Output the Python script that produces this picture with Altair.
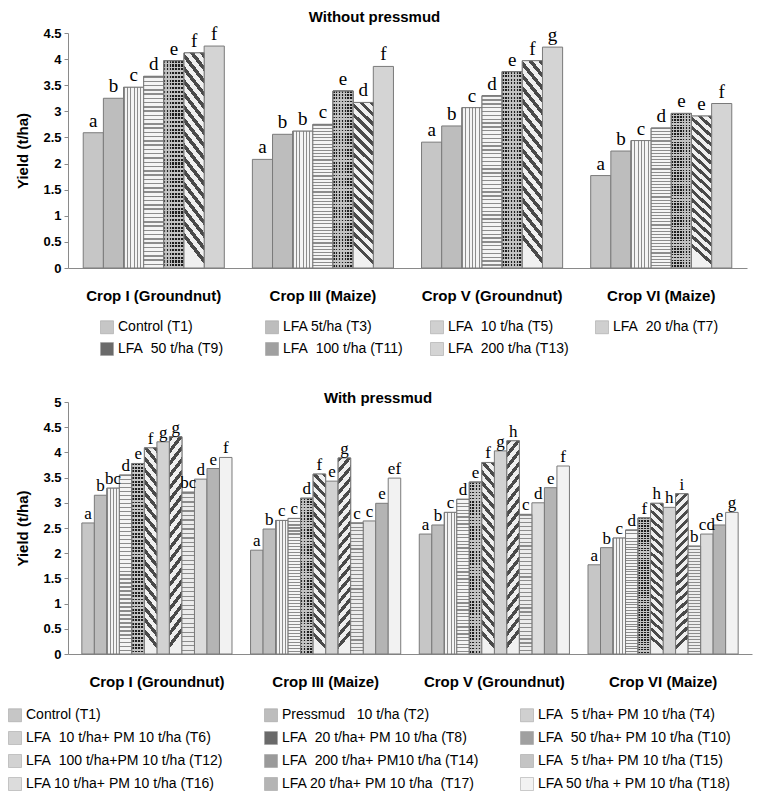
import altair as alt
import pandas as pd

crops = ["Crop I (Groundnut)", "Crop III (Maize)", "Crop V (Groundnut)", "Crop VI (Maize)"]

# ---------------- Without pressmud ----------------
top_trt = ["T1", "T3", "T5", "T7", "T9", "T11", "T13"]
top_labels = ["Control (T1)", "LFA 5t/ha (T3)", "LFA\u00a0 10 t/ha (T5)", "LFA\u00a0 20 t/ha (T7)",
              "LFA\u00a0 50 t/ha (T9)", "LFA\u00a0 100 t/ha (T11)", "LFA\u00a0 200 t/ha (T13)"]
top_c1 = [2.59, 3.25, 3.46, 3.67, 3.97, 4.12, 4.25]
top_c3 = [2.08, 2.56, 2.62, 2.75, 3.39, 3.17, 3.86]
top_c5 = [2.41, 2.72, 3.07, 3.30, 3.76, 3.97, 4.23]
top_c6 = [1.77, 2.24, 2.44, 2.68, 2.96, 2.91, 3.15]
top_l1 = ["a", "b", "c", "d", "e", "f", "f"]
top_l3 = ["a", "b", "b", "c", "e", "d", "f"]
top_l5 = ["a", "b", "c", "d", "e", "f", "g"]
top_l6 = ["a", "b", "c", "d", "e", "e", "f"]

# ---------------- With pressmud ----------------
bot_trt = ["T1", "T2", "T4", "T6", "T8", "T10", "T12", "T14", "T15", "T16", "T17", "T18"]
bot_labels = ["Control (T1)", "Pressmud\u00a0 \u00a010 t/ha (T2)", "LFA\u00a0 5 t/ha+ PM 10 t/ha (T4)",
              "LFA\u00a0 10 t/ha+ PM 10 t/ha (T6)", "LFA\u00a0 20 t/ha+ PM 10 t/ha (T8)",
              "LFA\u00a0 50 t/ha+ PM 10 t/ha (T10)", "LFA\u00a0 100 t/ha+PM 10 t/ha (T12)",
              "LFA\u00a0 200 t/ha+ PM10 t/ha (T14)", "LFA\u00a0 5 t/ha+ PM 10 t/ha (T15)",
              "LFA 10 t/ha+ PM 10 t/ha (T16)", "LFA 20 t/ha+ PM 10 t/ha\u00a0 (T17)",
              "LFA 50 t/ha + PM 10 t/ha (T18)"]
bot_c1 = [2.60, 3.15, 3.29, 3.55, 3.78, 4.09, 4.21, 4.31, 3.21, 3.47, 3.68, 3.90]
bot_c3 = [2.06, 2.48, 2.65, 2.69, 3.09, 3.57, 3.43, 3.89, 2.60, 2.64, 2.99, 3.49]
bot_c5 = [2.38, 2.56, 2.81, 3.07, 3.41, 3.80, 4.03, 4.23, 2.77, 3.00, 3.30, 3.73]
bot_c6 = [1.77, 2.11, 2.30, 2.46, 2.70, 2.99, 2.91, 3.18, 2.14, 2.38, 2.56, 2.81]
bot_l1 = ["a", "b", "bc", "d", "e", "f", "g", "g", "bc", "d", "e", "f"]
bot_l3 = ["a", "b", "c", "c", "d", "f", "e", "g", "c", "c", "e", "ef"]
bot_l5 = ["a", "b", "c", "d", "e", "f", "g", "h", "c", "d", "e", "f"]
bot_l6 = ["a", "b", "c", "d", "f", "h", "h", "i", "b", "cd", "e", "g"]

top_ticks = [0, 0.5, 1, 1.5, 2, 2.5, 3, 3.5, 4, 4.5]
bot_ticks = [0, 0.5, 1, 1.5, 2, 2.5, 3, 3.5, 4, 4.5, 5]

SANS = "Liberation Sans, Arial, sans-serif"
SERIF = "Liberation Serif, Times New Roman, serif"


def long_df(trts, labels, vals, lets):
    rows = []
    for crop, v, l in zip(crops, vals, lets):
        for t, lab, val, let in zip(trts, labels, v, l):
            rows.append({"crop": crop, "trt": t, "label": lab, "val": val, "letter": let})
    return pd.DataFrame(rows)


top_df = long_df(top_trt, top_labels, [top_c1, top_c3, top_c5, top_c6], [top_l1, top_l3, top_l5, top_l6])
bot_df = long_df(bot_trt, bot_labels, [bot_c1, bot_c3, bot_c5, bot_c6], [bot_l1, bot_l3, bot_l5, bot_l6])


def stripes(dark, light, n, x1, y1, x2, y2, duty):
    stops = []
    for i in range(n):
        a, b, c = i / n, (i + duty) / n, (i + 1) / n
        stops += [{"offset": round(a, 5), "color": dark}, {"offset": round(b, 5), "color": dark},
                  {"offset": round(b, 5), "color": light}, {"offset": round(c, 5), "color": light}]
    return {"gradient": "linear", "x1": x1, "y1": y1, "x2": x2, "y2": y2, "stops": stops}


CLEAR = "rgba(255,255,255,0)"

top_colors = ["#c6c6c6", "#bdbdbd", "#d0d0d0", "#cfcfcf", "#6a6a6a", "#a0a0a0", "#d4d4d4"]
top_over = [
    ("T5", [stripes("#8c8c8c", "#f4f4f4", 6, 0, 0, 1, 0, 0.3)]),
    ("T7", [stripes("#8c8c8c", "#f4f4f4", 45, 0, 0, 0, 1, 0.35)]),
    ("T9", [stripes("#1e1e1e", "#b4b4b4", 7, 0, 0, 1, 0, 0.55),
            stripes(CLEAR, "#c4c4c4", 55, 0, 0, 0, 1, 0.55)]),
    ("T11", [stripes("#4a4a4a", "#f0f0f0", 17, 1, 0, 0.88, 1, 0.45)]),
]

bot_colors = ["#c6c6c6", "#bdbdbd", "#d0d0d0", "#cfcfcf", "#6a6a6a", "#a0a0a0",
              "#d2d2d2", "#9a9a9a", "#c4c4c4", "#dcdcdc", "#b4b4b4", "#f2f2f2"]
bot_over = [
    ("T4", [stripes("#8c8c8c", "#f4f4f4", 4, 0, 0, 1, 0, 0.3)]),
    ("T6", [stripes("#8c8c8c", "#f4f4f4", 45, 0, 0, 0, 1, 0.35)]),
    ("T8", [stripes("#1e1e1e", "#b4b4b4", 4, 0, 0, 1, 0, 0.55),
            stripes(CLEAR, "#c4c4c4", 55, 0, 0, 0, 1, 0.55)]),
    ("T10", [stripes("#4a4a4a", "#f0f0f0", 18, 1, 0, 0.925, 1, 0.45)]),
    ("T14", [stripes("#4a4a4a", "#f0f0f0", 18, 0, 0, 0.075, 1, 0.45)]),
    ("T15", [stripes("#8c8c8c", "#ececec", 36, 0, 0, 0, 1, 0.3)]),
]


def panel(df, trts, labels, colors, overlays, ymax, ticks, width, height, pin, pout,
          title, title_dx, title_off, leg_x, leg_y, cols, col_pad, row_pad, letter_size, letter_dy):
    x = alt.X("crop:N", sort=crops,
              scale=alt.Scale(domain=crops, paddingInner=pin, paddingOuter=pout),
              axis=alt.Axis(title=None, labelAngle=0, labelFont=SANS, labelFontSize=15,
                            labelFontWeight="bold", labelColor="black", ticks=False,
                            domainColor="#8a8a8a", labelPadding=20, labelLimit=300))
    xo = alt.XOffset("trt:N", scale=alt.Scale(domain=trts, paddingInner=0, paddingOuter=0))
    y = alt.Y("val:Q", scale=alt.Scale(domain=[0, ymax], nice=False, zero=True),
              axis=alt.Axis(values=ticks, format=".1~f", title="Yield (t/ha)", grid=False,
                            labelFont=SANS, labelFontSize=13, labelFontWeight="bold",
                            labelColor="black", tickColor="#8a8a8a", tickSize=4,
                            domainColor="#8a8a8a", titleFont=SANS, titleFontSize=15,
                            titleFontWeight="bold", titleColor="black", titlePadding=12,
                            labelPadding=3))
    base = alt.Chart(df).mark_bar(stroke="#7a7a7a", strokeWidth=1).encode(
        x=x, xOffset=xo, y=y,
        color=alt.Color("label:N", scale=alt.Scale(domain=labels, range=colors),
                        legend=alt.Legend(title=None, orient="none", legendX=leg_x, legendY=leg_y,
                                          direction="horizontal", columns=cols, gridAlign="all",
                                          symbolType="square", symbolSize=169,
                                          symbolStrokeColor="#9a9a9a", symbolStrokeWidth=0.5,
                                          labelFont=SANS, labelFontSize=14, labelColor="black",
                                          labelLimit=400, labelOffset=4, columnPadding=col_pad,
                                          rowPadding=row_pad)))
    layers = [base]
    for trt, grads in overlays:
        for g in grads:
            layers.append(alt.Chart(df).transform_filter(alt.datum.trt == trt)
                          .mark_bar(color=g, stroke="#7a7a7a", strokeWidth=1)
                          .encode(x=x, xOffset=xo, y=y))
    text = alt.Chart(df).mark_text(baseline="alphabetic", dy=letter_dy, font=SERIF,
                                   fontSize=letter_size, color="black").encode(
        x=x, xOffset=xo, y=y, text="letter:N")
    layers.append(text)
    return alt.layer(*layers).properties(
        width=width, height=height,
        title=alt.TitleParams(title, font=SANS, fontSize=15, fontWeight="bold", color="black",
                              anchor="middle", frame="group", dx=title_dx, offset=title_off))


top = panel(top_df, top_trt, top_labels, top_colors, top_over, 4.5, top_ticks, 679, 235,
            0.166, 0.09, "Without pressmud", -33, 0, 32, 287, 4, 25, 6, 19, -6)
bot = panel(bot_df, bot_trt, bot_labels, bot_colors, bot_over, 5, bot_ticks, 684, 252,
            0.11, 0.082, "With pressmud", -32, -10, -60, 306, 3, 40, 7, 17, -4)

chart = alt.vconcat(top, bot, spacing=34).resolve_scale(
    color="independent", x="independent", y="independent", xOffset="independent"
).resolve_legend(color="independent").properties(
    padding={"left": 0, "top": 2, "right": 4, "bottom": 0}
).configure_view(stroke=None)

chart.save("out.html", embed_options={"renderer": "svg", "actions": False})
